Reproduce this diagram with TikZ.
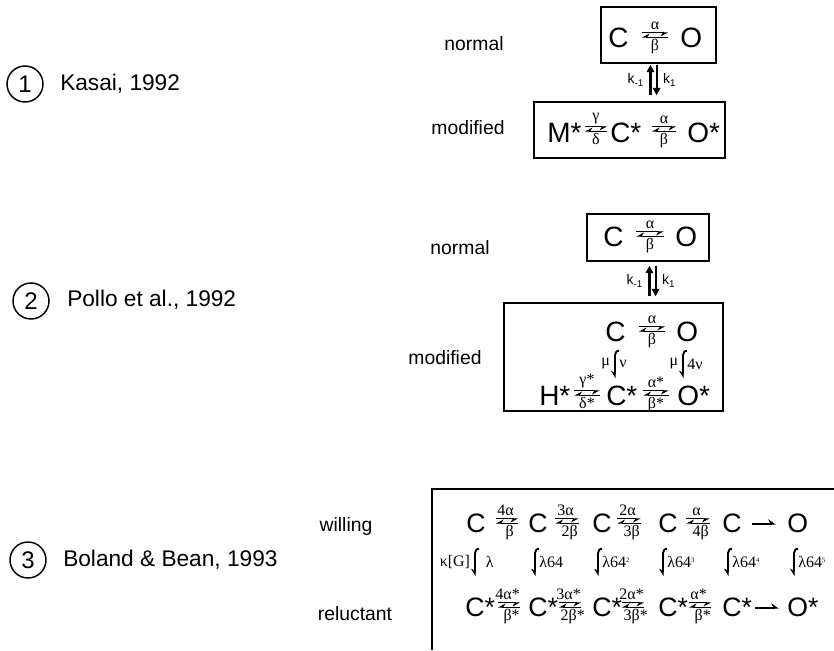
\documentclass[tikz,border=0pt]{standalone}
\usepackage{fontspec}
\setmainfont{Liberation Sans}
\newfontfamily\rf{Liberation Serif}
\usetikzlibrary{arrows.meta}
\newcommand{\spf}{\fontsize{21}{24}\selectfont}
\newcommand{\spg}{\fontsize{20}{24}\selectfont}
\newcommand{\tsup}[1]{\raisebox{4pt}{\fontsize{5}{5}\selectfont #1}}
\tikzset{
  sp/.style={font=\spf, inner sep=0pt, anchor=base west},
  sq/.style={font=\spg, inner sep=0pt, anchor=base west},
  rate/.style={font=\rf\fontsize{12}{13}\selectfont, inner sep=0.5pt},
  ksty/.style={font=\fontsize{10.5}{12}\selectfont, inner sep=0.5pt},
  lbl/.style={font=\fontsize{14.5}{17}\selectfont, inner sep=0pt},
  refl/.style={font=\fontsize{17}{20}\selectfont, inner sep=0pt, anchor=west},
  num/.style={circle, draw, line width=1.1pt, minimum size=27pt, inner sep=0pt, font=\fontsize{18}{20}\selectfont},
  frame/.style={draw, line width=1.5pt, inner sep=0pt},
  rxn/.style={inner sep=0pt, minimum height=0pt},
  fwd/.style={line width=0.9pt, -{Stealth[harpoon,swap,length=5pt,width=5.4pt]}},
  onew/.style={line width=1pt, -{Stealth[harpoon,length=5pt,width=7pt]}},
  kar/.style={line width=1.6pt, -{Triangle[length=5.5pt,width=5.5pt]}},
  hk/.style={line width=1.4pt, -{Stealth[harpoon,swap,length=5pt,width=6pt]}},
}
% reaction pair: name, x, y, half length (px), top, bottom, bottom xshift (pt)
\newcommand{\rx}[7]{%
  \node[rxn, minimum width=#4*1.5pt] (#1) at (#2,#3) {};
  \draw[fwd] ([yshift=1.6pt]#1.west) -- ([yshift=1.6pt]#1.east);
  \draw[fwd] ([yshift=-1.6pt]#1.east) -- ([yshift=-1.6pt]#1.west);
  \node[rate, anchor=south] (#1t) at ([yshift=2.8pt,xshift=-0.5*#7]#1.north) {#5};
  \node[rate, anchor=north] (#1b) at ([yshift=-2pt,xshift=#7]#1.south) {#6};
}
% k arrows: name, x, y, length (px)
\newcommand{\kk}[4]{%
  \node[rxn, minimum height=#4*0.75pt] (#1) at (#2,#3) {};
  \draw[kar] ([xshift=-2.3pt]#1.south) -- ([xshift=-2.3pt]#1.north);
  \draw[kar] ([xshift=2.3pt]#1.north) -- ([xshift=2.3pt]#1.south);
  \node[ksty, anchor=east] (#1l) at ([xshift=-6.5pt]#1.center) {k\textsubscript{-1}};
  \node[ksty, anchor=west] (#1r) at ([xshift=6.5pt]#1.center) {k\textsubscript{1}};
}
% hook arrow: name, x, y, left label, right label
\newcommand{\hook}[5]{%
  \node[rxn, minimum height=28*0.75pt] (#1) at (#2,#3) {};
  \draw[hk] ([xshift=3pt,yshift=-1pt]#1.north) to[out=150,in=90] ([yshift=-4pt]#1.north) -- (#1.south);
  \node[rate, anchor=east] (#1l) at ([xshift=-3pt]#1.center) {#4};
  \node[rate, anchor=west] (#1r) at ([xshift=2.5pt]#1.center) {#5};
}
\begin{document}
\begin{tikzpicture}[x=0.75pt,y=-0.75pt]
\useasboundingbox (0,0) rectangle (834,650);

% ---- left column
\node[num] (n1) at (25,84) {1};
\node[refl] (t1) at (60,84) {Kasai, 1992};
\node[num] (n2) at (31,301) {2};
\node[refl] (t2) at (67,300) {Pollo et al., 1992};
\node[num] (n3) at (28,560) {3};
\node[refl] (t3) at (63,560) {Boland \& Bean, 1993};

% ---- scheme 1
\node[lbl] (l1n) at (474,44) {normal};
\node[lbl] (l1m) at (468,128) {modified};
\node[frame, minimum width=115*0.75pt, minimum height=56*0.75pt] (b1n) at (658.5,35) {};
\node[sp] (c1) at (608,47) {C};
\rx{a1}{655}{35}{13}{α}{β}{0pt}
\node[sp] (o1) at (680,47) {O};
\kk{k1}{653.5}{80}{30}
\node[frame, minimum width=191*0.75pt, minimum height=56*0.75pt] (b1m) at (629.5,130) {};
\node[sp] (m1) at (547,142) {M*};
\rx{g1}{596}{129}{11}{γ}{δ}{0pt}
\node[sp] (cs1) at (610,142) {C*};
\rx{a1s}{664}{129}{12}{α}{β}{0pt}
\node[sp] (os1) at (687,142) {O*};

% ---- scheme 2
\node[lbl] (l2n) at (460,248) {normal};
\node[lbl] (l2m) at (445,358) {modified};
\node[frame, minimum width=122*0.75pt, minimum height=47*0.75pt] (b2n) at (648,237.5) {};
\node[sp] (c2) at (603,246) {C};
\rx{a2}{650}{234}{13.5}{α}{β}{0pt}
\node[sp] (o2) at (675,246) {O};
\kk{k2}{652.5}{281}{30}
\node[frame, minimum width=219*0.75pt, minimum height=108*0.75pt] (b2m) at (613.5,357) {};
\node[sp] (c2i) at (605,341) {C};
\rx{a2i}{652}{329}{13}{α}{β}{0pt}
\node[sp] (o2i) at (676,341) {O};
\hook{h2a}{615}{364}{μ}{ν}
\hook{h2b}{683}{364}{μ}{4ν}
\node[sp] (h2) at (539,405) {H*};
\rx{g2}{587}{393}{12.5}{γ*}{δ*}{0pt}
\node[sp] (cs2) at (606,405) {C*};
\rx{a2s}{656}{393}{12.5}{α*}{β*}{0pt}
\node[sp] (os2) at (677,405) {O*};

% ---- scheme 3
\node[lbl] (l3w) at (346,526) {willing};
\node[lbl] (l3r) at (355,614) {reluctant};
\draw[line width=1.5pt] (834,489) -- (432,489) -- (432,650);
% willing row
\node[sq] (w0) at (466,532.5) {C};
\rx{wa}{507}{521}{11}{4α}{β}{2pt}
\node[sq] (w1) at (528,532.5) {C};
\rx{wb}{567}{521}{11.5}{3α}{2β}{2pt}
\node[sq] (w2) at (592,532.5) {C};
\rx{wc}{629}{521}{11.5}{2α}{3β}{2pt}
\node[sq] (w3) at (658,532.5) {C};
\rx{wd}{698}{521}{11.5}{α}{4β}{2pt}
\node[sq] (w4) at (722,532.5) {C};
\node[rxn, minimum width=23*0.75pt] (we) at (764,524) {};
\draw[onew] (we.west) -- (we.east);
\node[sq] (w5) at (787,532.5) {O};
% hooks
\hook{ha}{475}{562}{κ[G]}{\hspace{5pt}λ}
\hook{hb}{535}{562}{}{λ64}
\hook{hc}{598}{562}{}{λ64\tsup{2}}
\hook{hd}{663}{562}{}{λ64\tsup{3}}
\hook{he}{728}{562}{}{λ64\tsup{4}}
\hook{hf}{794}{562}{}{λ64\tsup{5}}
% reluctant row
\node[sq] (r0) at (465,616.5) {C*};
\rx{ra}{509}{605}{11}{4α*}{β*}{2pt}
\node[sq] (r1) at (528,616.5) {C*};
\rx{rb}{570}{605}{11}{3α*}{2β*}{2pt}
\node[sq] (r2) at (592,616.5) {C*};
\rx{rc}{633}{605}{11}{2α*}{3β*}{2pt}
\node[sq] (r3) at (658,616.5) {C*};
\rx{rd}{700}{605}{11}{α*}{β*}{2pt}
\node[sq] (r4) at (722,616.5) {C*};
\node[rxn, minimum width=23*0.75pt] (re) at (767,608) {};
\draw[onew] (re.west) -- (re.east);
\node[sq] (r5) at (787,616.5) {O*};
\end{tikzpicture}
\end{document}
